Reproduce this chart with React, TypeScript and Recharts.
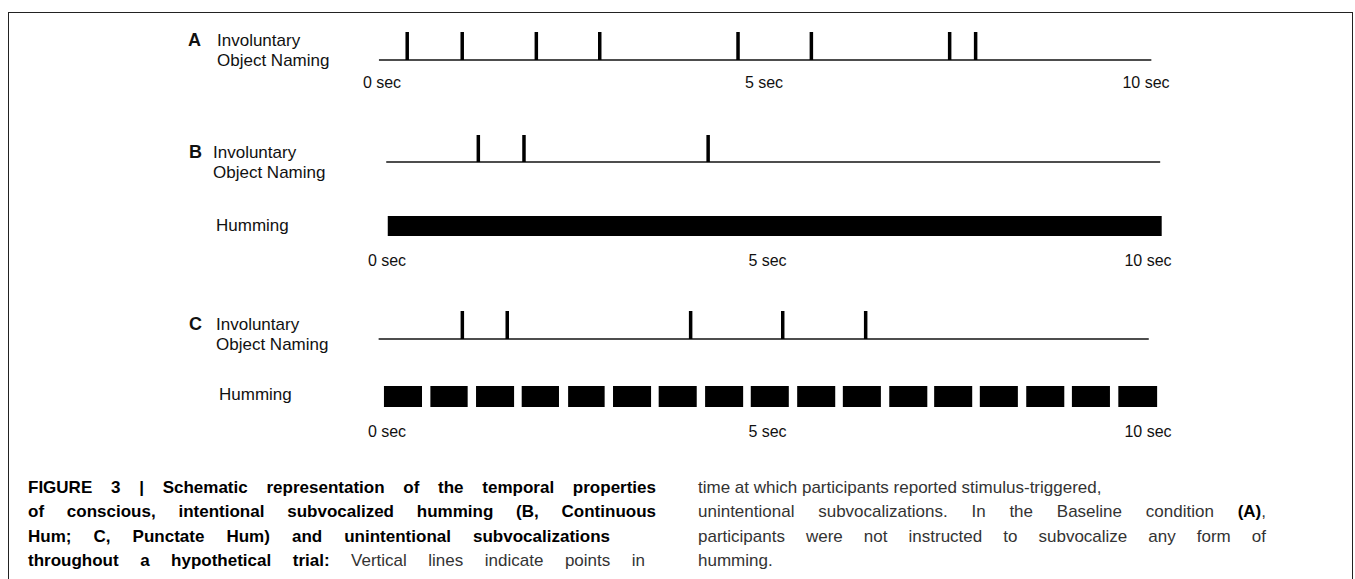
import React from 'react';
import { ComposedChart, XAxis, YAxis, ReferenceLine, ReferenceArea } from 'recharts';

// time axis (seconds)
const timeTicks = [0, 5, 10];

// A: baseline condition, involuntary object naming only
const namingA = [0.33, 1.05, 2.02, 2.85, 4.66, 5.62, 7.43, 7.77];
const trackA = [-0.04, 10.07];

// B: continuous hum
const namingB = [1.2, 1.8, 4.22];
const trackB = [-0.01, 10.16];
const humB = [0.01, 10.18];

// C: punctate hum
const namingC = [0.99, 1.58, 3.99, 5.2, 6.29];
const trackC = [-0.11, 10.01];
const humCStart = [-0.04, 0.57, 1.17, 1.77, 2.38, 2.97, 3.57, 4.18, 4.78, 5.39, 5.99, 6.6, 7.19, 7.79, 8.4, 9.0, 9.61];
const humCEnd = [0.46, 1.06, 1.67, 2.26, 2.86, 3.47, 4.07, 4.68, 5.28, 5.89, 6.49, 7.1, 7.69, 8.29, 8.9, 9.5, 10.12];

const W = 1355;
const PAD = 4;
const FONT = '"Liberation Sans", Arial, Helvetica, sans-serif';

type RowProps = {
  x0: number;
  x10: number;
  top: number;
  bottom: number;
  axisGap?: number;
  children: React.ReactNode;
};

// one horizontal track; x domain 0..10 sec, y domain 0..1 spans top..bottom
const Row = ({ x0, x10, top, bottom, axisGap, children }: RowProps) => {
  const axis = axisGap !== undefined;
  const h = bottom - top;
  return (
    <div style={{ position: 'absolute', left: 0, top: top - PAD }}>
      <ComposedChart
        width={W}
        height={h + PAD + (axis ? 40 : PAD)}
        margin={{ top: PAD, right: W - x10, bottom: axis ? 0 : PAD, left: x0 }}
        data={timeTicks.map(t => ({ t, y: 0 }))}
      >
        <XAxis
          type="number"
          dataKey="t"
          domain={[0, 10]}
          allowDataOverflow
          ticks={timeTicks}
          interval={0}
          hide={!axis}
          height={40}
          axisLine={false}
          tickLine={false}
          tickMargin={axisGap}
          tickFormatter={(v: number) => `${v} sec`}
          tick={{ fill: '#111', fontSize: 16, fontFamily: FONT }}
        />
        <YAxis type="number" dataKey="y" domain={[0, 1]} allowDataOverflow hide />
        {children}
      </ComposedChart>
    </div>
  );
};

const baseline = (span: number[]) => (
  <ReferenceLine
    segment={[{ x: span[0], y: 0 }, { x: span[1], y: 0 }]}
    stroke="#4d4d4d"
    strokeWidth={2}
    ifOverflow="visible"
  />
);

const events = (times: number[]) =>
  times.map((t, i) => (
    <ReferenceLine
      key={`ev-${i}`}
      segment={[{ x: t, y: 0 }, { x: t, y: 1 }]}
      stroke="#000"
      strokeWidth={3.5}
      ifOverflow="visible"
    />
  ));

const Text = ({ x, y, children, bold, size = 17 }: any) => (
  <div
    style={{
      position: 'absolute',
      left: x,
      top: y - 10,
      lineHeight: '20px',
      fontSize: size,
      fontWeight: bold ? 700 : 400,
      fontFamily: FONT,
      color: '#111',
      whiteSpace: 'nowrap',
    }}
  >
    {children}
  </div>
);

const CapLine = ({ x, y, w, children }: any) => (
  <div
    style={{
      position: 'absolute',
      left: x,
      top: y - 12,
      width: w,
      lineHeight: '24px',
      fontSize: 17,
      fontFamily: FONT,
      color: '#333',
      textAlign: w ? 'justify' : 'left',
      textAlignLast: w ? 'justify' : 'auto',
      whiteSpace: w ? 'normal' : 'nowrap',
    }}
  >
    {children}
  </div>
);

const B = ({ children }: any) => <b style={{ color: '#000' }}>{children}</b>;

export default function App() {
  return (
    <div style={{ position: 'absolute', left: 0, top: 0, width: W, height: 579, overflow: 'hidden', background: '#fff' }}>
      <div
        style={{
          position: 'absolute',
          left: 8,
          top: 12,
          width: 1343,
          height: 600,
          borderLeft: '1.5px solid #222',
          borderTop: '1.5px solid #222',
          borderRight: '1.5px solid #222',
        }}
      />

      {/* A */}
      <Text x={188} y={40} bold size={18}>A</Text>
      <Text x={217} y={41}>Involuntary</Text>
      <Text x={217} y={61}>Object Naming</Text>
      <Row x0={382} x10={1146} top={32} bottom={60} axisGap={11}>
        {baseline(trackA)}
        {events(namingA)}
      </Row>

      {/* B */}
      <Text x={189} y={152} bold size={18}>B</Text>
      <Text x={213} y={153}>Involuntary</Text>
      <Text x={213} y={173}>Object Naming</Text>
      <Text x={216} y={226}>Humming</Text>
      <Row x0={387} x10={1148} top={135} bottom={162}>
        {baseline(trackB)}
        {events(namingB)}
      </Row>
      <Row x0={387} x10={1148} top={216} bottom={236} axisGap={13}>
        <ReferenceArea x1={humB[0]} x2={humB[1]} y1={0} y2={1} fill="#000" fillOpacity={1} stroke="none" ifOverflow="visible" />
      </Row>

      {/* C */}
      <Text x={189} y={324} bold size={18}>C</Text>
      <Text x={216} y={325}>Involuntary</Text>
      <Text x={216} y={345}>Object Naming</Text>
      <Text x={219} y={395}>Humming</Text>
      <Row x0={387} x10={1148} top={311} bottom={339}>
        {baseline(trackC)}
        {events(namingC)}
      </Row>
      <Row x0={387} x10={1148} top={386} bottom={407} axisGap={13}>
        {humCStart.map((s, i) => (
          <ReferenceArea key={`hum-${i}`} x1={s} x2={humCEnd[i]} y1={0} y2={1} fill="#000" fillOpacity={1} stroke="none" ifOverflow="visible" />
        ))}
      </Row>

      {/* caption */}
      <CapLine x={28} y={488} w={628}><B>FIGURE 3 | Schematic representation of the temporal properties</B></CapLine>
      <CapLine x={28} y={512} w={628}><B>of conscious, intentional subvocalized humming (B, Continuous</B></CapLine>
      <CapLine x={28} y={537} w={582}><B>Hum; C, Punctate Hum) and unintentional subvocalizations</B></CapLine>
      <CapLine x={28} y={561} w={617}><B>throughout a hypothetical trial:</B> Vertical lines indicate points in</CapLine>

      <CapLine x={698} y={488}>time at which participants reported stimulus-triggered,</CapLine>
      <CapLine x={698} y={512} w={568}>unintentional subvocalizations. In the Baseline condition <B>(A)</B>,</CapLine>
      <CapLine x={698} y={537} w={568}>participants were not instructed to subvocalize any form of</CapLine>
      <CapLine x={698} y={561}>humming.</CapLine>
    </div>
  );
}
